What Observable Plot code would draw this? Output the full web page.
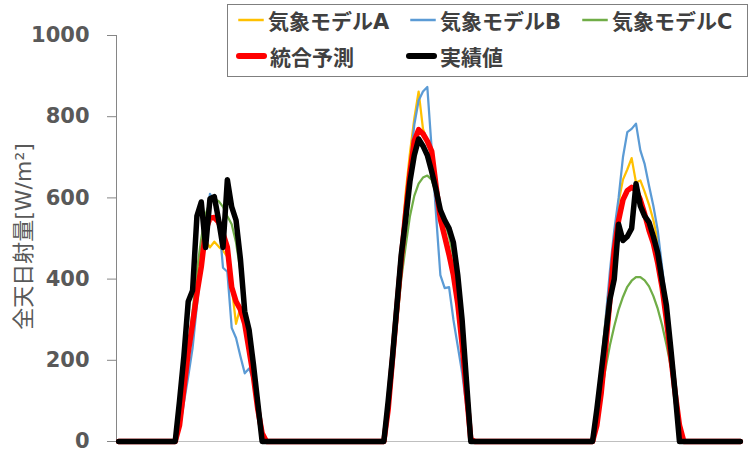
<!DOCTYPE html>
<html>
<head>
<meta charset="utf-8">
<script src="https://cdn.jsdelivr.net/npm/d3@7"></script>
<script src="https://cdn.jsdelivr.net/npm/@observablehq/plot@0.6"></script>
<style>
  body { margin: 0; background: #fff; }
  #wrap { position: relative; width: 750px; height: 464px; }
  #legend { position: absolute; left: 227px; top: 4px; width: 521px; height: 73px; box-sizing: border-box;
    border: 1px solid #7f7f7f; background: #fff;
    font: bold 21px "DejaVu Sans", "Noto Sans CJK JP", sans-serif; color: #404040; }
  .item { position: absolute; display: flex; align-items: center; height: 26px; white-space: nowrap; }
  .item svg { margin-right: 3px; }
</style>
</head>
<body>
<div id="wrap"><div id="legend"></div></div>
<script>
// Half-hour slot (0..143 over three days) at which each day's listed values start
const dayFirstSlot = [13, 61, 109];
const totalSlots = 144;

// Values per day, 22 half-hour slots each (W/m2)
const modelA = [
  [0,45,140,225,300,380,470,495,478,492,480,470,455,380,290,330,280,215,150,70,10,0],
  [0,110,230,350,470,610,710,795,862,770,740,700,625,560,510,460,400,320,220,110,5,0],
  [0,80,190,300,400,500,590,645,670,698,638,643,615,583,545,495,420,335,235,130,30,0]
];
const modelB = [
  [0,30,95,160,230,335,430,520,610,590,550,428,418,280,255,210,168,180,150,75,10,0],
  [0,90,210,330,450,570,680,780,840,862,873,720,560,410,378,380,300,235,170,85,5,0],
  [0,90,190,300,420,520,600,700,762,770,783,717,683,630,580,520,430,340,240,130,30,0]
];
const modelC = [
  [0,45,130,225,320,420,500,560,590,598,592,578,555,535,490,420,340,270,190,95,15,0],
  [0,90,190,290,400,480,555,605,635,650,655,645,612,572,540,505,455,375,275,140,5,0],
  [0,45,117,180,237,284,325,356,381,396,405,405,397,382,358,327,287,239,185,120,50,0]
];
const ensemble = [
  [0,40,130,220,290,365,430,520,550,552,540,512,478,380,345,325,290,225,160,80,20,0],
  [0,80,205,330,450,560,660,740,768,758,740,715,630,548,505,460,410,340,240,120,5,0],
  [0,40,120,230,350,470,545,595,618,626,620,595,560,520,488,440,380,300,210,120,40,0]
];
const actual = [
  [0,100,210,345,372,555,590,478,598,603,545,478,645,578,545,450,320,275,190,95,0,0],
  [0,100,210,335,460,545,640,705,745,728,705,665,620,570,545,525,490,410,300,150,0,0],
  [0,80,170,260,350,400,535,495,505,525,635,580,555,540,505,465,397,335,230,120,0,0]
];

const yTicks = [0, 200, 400, 600, 800, 1000];
const seriesNames = ["気象モデルA", "気象モデルB", "気象モデルC", "統合予測", "実績値"];
const seriesColors = ["#FFC000", "#5B9BD5", "#70AD47", "#FF0000", "#000000"];
const yTitle = "全天日射量[W/m²]";

// Build table: night boundaries at first/last slot, then listed daytime slots
const allSeries = [modelA, modelB, modelC, ensemble, actual];
const rows = [];
rows.push({slot: 0, v: allSeries.map(() => 0)});
for (let d = 0; d < 3; d++) {
  for (let k = 0; k < modelA[d].length; k++) {
    rows.push({slot: dayFirstSlot[d] + k, v: allSeries.map(s => s[d][k])});
  }
}
rows.push({slot: totalSlots - 1, v: allSeries.map(() => 0)});

const widths = [2.25, 2.25, 2.25, 5.5, 5.5];
const lineMarks = seriesNames.map((name, j) =>
  Plot.lineY(rows, {x: "slot", y: r => r.v[j], stroke: seriesColors[j], strokeWidth: widths[j],
    strokeLinejoin: "round", strokeLinecap: "round"}));

const chart = Plot.plot({
  width: 750, height: 464,
  marginLeft: 116, marginRight: 8, marginTop: 35, marginBottom: 23,
  style: {fontFamily: '"DejaVu Sans", "Noto Sans CJK JP", sans-serif', background: "#fff"},
  x: {domain: [-0.5, totalSlots - 0.5], axis: null},
  y: {domain: [0, 1000], label: null, axis: null},
  marks: [
    Plot.ruleY([0], {stroke: "#bfbfbf", strokeWidth: 1.2}),
    Plot.ruleX([-0.5], {y1: 0, y2: 1000, stroke: "#868686"}),
    Plot.axisY(yTicks, {tickSize: 9, tickPadding: 18, stroke: "#868686", fill: "#595959",
      fontWeight: "bold", fontSize: 21, label: null, tickFormat: d => String(d)}),
    Plot.text([yTitle], {frameAnchor: "left", textAnchor: "middle", dx: -93, dy: -2, rotate: -90,
      fontSize: 22, fill: "#595959",
      fontFamily: '"DejaVu Sans", "Noto Sans CJK JP", sans-serif'}),
    ...lineMarks
  ]
});
document.getElementById("wrap").prepend(chart);

// Legend
const legendPos = [[9, 2], [181, 2], [353, 2], [8, 38], [178, 38]];
const legend = document.getElementById("legend");
seriesNames.forEach((name, j) => {
  const it = document.createElement("div");
  it.className = "item";
  it.style.left = legendPos[j][0] + "px";
  it.style.top = legendPos[j][1] + "px";
  const w = j >= 3 ? 31 : 28;
  const sw = j >= 3 ? 6 : 2.5;
  it.innerHTML = `<svg width="${w}" height="12"><line x1="${sw/2}" x2="${w - sw/2}" y1="6" y2="6" stroke="${seriesColors[j]}" stroke-width="${sw}" stroke-linecap="${j >= 3 ? 'round' : 'butt'}"/></svg><span>${name}</span>`;
  legend.appendChild(it);
});
</script>
</body>
</html>
